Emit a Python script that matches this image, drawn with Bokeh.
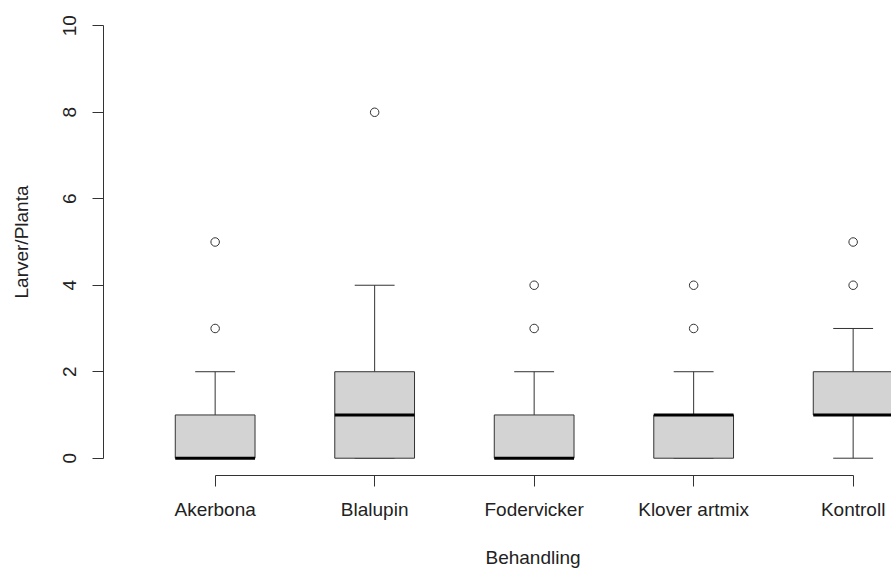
from bokeh.plotting import figure
from bokeh.models import Range1d, FixedTicker, LinearAxis, Title
from bokeh.embed import file_html
from bokeh.resources import INLINE

# Five-number summaries per treatment
categories = ["Akerbona", "Blalupin", "Fodervicker", "Klover artmix", "Kontroll"]
lower_whisker = [0, 0, 0, 0, 0]
q1 = [0, 0, 0, 0, 1]
median = [0, 1, 0, 1, 1]
q3 = [1, 2, 1, 1, 2]
upper_whisker = [2, 4, 2, 2, 3]

# Outlying observations (category index, value)
outlier_group = [1, 1, 2, 3, 3, 4, 4, 5, 5]
outlier_value = [3, 5, 8, 3, 4, 3, 4, 4, 5]

y_ticks = [0, 2, 4, 6, 8, 10]

FONT = "Liberation Sans"
INK = "#333333"
TEXT = "#222222"

pos = list(range(1, len(categories) + 1))
box_w = 0.5
cap_w = 0.25

p = figure(
    width=891, height=571,
    x_range=Range1d(0.3, 0.3 + 788 / 159.5),
    y_range=Range1d(-0.4, 10.4),
    x_axis_type=None, y_axis_type=None,
    output_backend="svg", toolbar_location=None,
    min_border_left=103, min_border_right=0,
    min_border_top=8, min_border_bottom=96,
)
p.outline_line_color = None
p.xgrid.visible = False
p.ygrid.visible = False
p.background_fill_color = "white"
p.border_fill_color = "white"

# Axes (bounded like base-R axes)
yax = LinearAxis(
    ticker=FixedTicker(ticks=y_ticks), bounds=(0, 10),
    axis_label="Larver/Planta",
)
xax = LinearAxis(
    ticker=FixedTicker(ticks=pos), bounds=(1, len(categories)),
    major_label_overrides={i: c for i, c in zip(pos, categories)},
)
for ax in (xax, yax):
    ax.axis_line_color = INK
    ax.major_tick_line_color = INK
    ax.minor_tick_line_color = None
    ax.major_tick_out = 11
    ax.major_tick_in = 0
    ax.major_label_text_font = FONT
    ax.major_label_text_font_size = "19px"
    ax.major_label_text_color = TEXT
    ax.axis_label_text_font = FONT
    ax.axis_label_text_font_size = "19px"
    ax.axis_label_text_font_style = "normal"
    ax.axis_label_text_color = TEXT
yax.major_label_orientation = "vertical"
yax.major_label_standoff = 16
yax.axis_label_standoff = 29
xax.major_label_standoff = 12
p.add_layout(yax, "left")
p.add_layout(xax, "below")

# Blank band between the tick labels and the x title: a white,
# label-less tick at the far left reserves the vertical space
gap = LinearAxis(
    ticker=FixedTicker(ticks=[0.5]), major_tick_out=22, major_tick_in=0,
    axis_line_color=None, major_tick_line_color="white", minor_tick_line_color=None,
    major_label_text_color=None, major_label_text_font_size="1px",
    major_label_standoff=0,
)
p.add_layout(gap, "below")

# x title, centred under the middle treatment
p.add_layout(Title(
    text="Behandling", align="left", offset=382, standoff=0,
    text_font=FONT, text_font_size="19px", text_color=TEXT,
    text_font_style="normal",
), "below")

# Whiskers and staples
p.segment(x0=pos, y0=q3, x1=pos, y1=upper_whisker, line_color=INK, line_width=1)
p.segment(x0=pos, y0=q1, x1=pos, y1=lower_whisker, line_color=INK, line_width=1)
p.segment(x0=[x - cap_w / 2 for x in pos], y0=upper_whisker,
          x1=[x + cap_w / 2 for x in pos], y1=upper_whisker, line_color=INK, line_width=1)
p.segment(x0=[x - cap_w / 2 for x in pos], y0=lower_whisker,
          x1=[x + cap_w / 2 for x in pos], y1=lower_whisker, line_color=INK, line_width=1)

# Boxes
p.vbar(x=pos, width=box_w, bottom=q1, top=q3,
       fill_color="#d3d3d3", line_color=INK, line_width=1)

# Medians
p.segment(x0=[x - box_w / 2 for x in pos], y0=median,
          x1=[x + box_w / 2 for x in pos], y1=median, line_color="black", line_width=3)

# Outliers
p.scatter(x=outlier_group, y=outlier_value, marker="circle", size=8.5,
          fill_color=None, line_color=INK, line_width=1)

open("out.html", "w").write(file_html(p, INLINE))
